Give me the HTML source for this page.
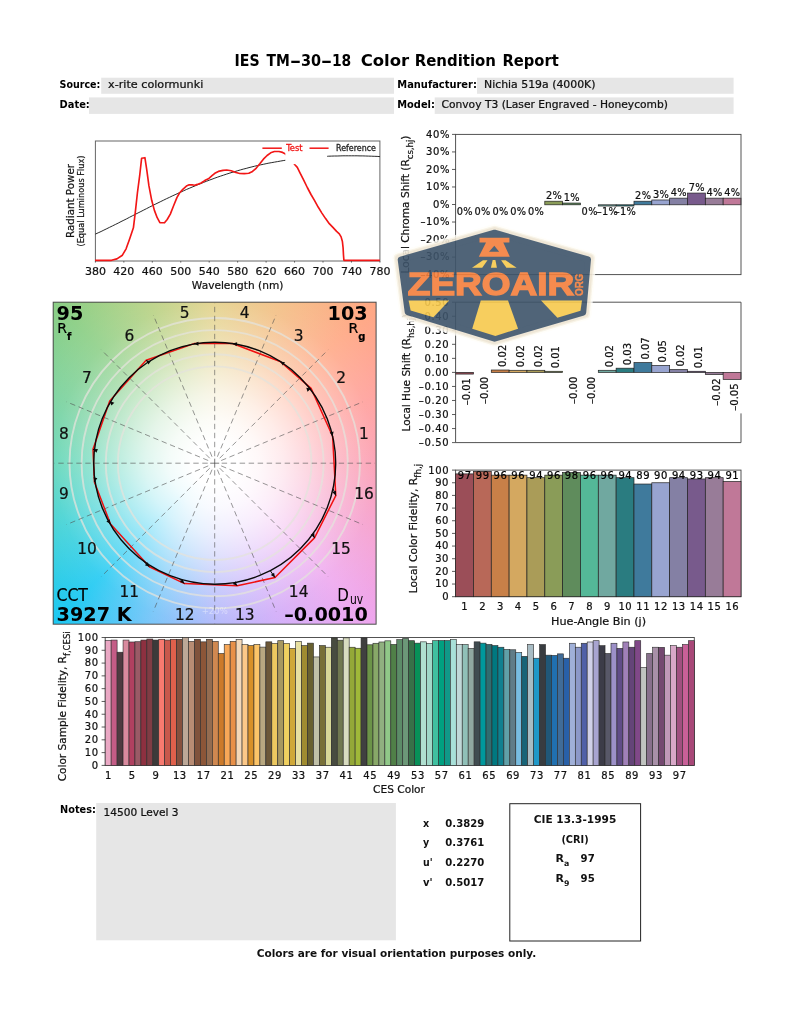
<!DOCTYPE html>
<html lang="en">
<head>
<meta charset="utf-8">
<title>IES TM-30-18 Color Rendition Report</title>
<style>
html,body{margin:0;padding:0;background:#fff;}
body{width:793px;height:1024px;position:relative;overflow:hidden;font-family:"DejaVu Sans", "Liberation Sans", sans-serif;}
#cvgbg{position:absolute;left:53.2px;top:302.2px;width:322.9px;height:322.0px;
background:radial-gradient(circle closest-side at 50% 50%, rgba(255,255,255,1) 0%, rgba(255,255,255,1) 14%, rgba(255,255,255,0.93) 28%, rgba(255,255,255,0.80) 43%, rgba(255,255,255,0.62) 58%, rgba(255,255,255,0.40) 74%, rgba(255,255,255,0.24) 89%, rgba(255,255,255,0.13) 100%, rgba(255,255,255,0.03) 125%, rgba(255,255,255,0) 140%), conic-gradient(from 0deg at 50% 50%, #e2cf84 0deg, #f2bd80 22deg, #ffa884 45deg, #ff9c98 68deg, #fb98ae 90deg, #f59ccc 112deg, #eea6ee 135deg, #cfa8f8 158deg, #a9b0fa 180deg, #6cc0f8 202deg, #1cc8f2 225deg, #38d0d4 248deg, #5ad4b4 270deg, #74d09a 292deg, #8ccf86 315deg, #b6d080 338deg, #e2cf84 360deg);}
svg{position:absolute;left:0;top:0;font-family:"DejaVu Sans", "Liberation Sans", sans-serif;}
</style>
</head>
<body>
<div id="cvgbg"></div>
<svg width="793" height="1024" viewBox="0 0 793 1024">
<text y="66.3" font-size="15.2" font-weight="bold" fill="#000"><tspan x="234.5" textLength="25.1" lengthAdjust="spacingAndGlyphs">IES</tspan> <tspan x="266.6" textLength="23.3" lengthAdjust="spacingAndGlyphs">TM</tspan><tspan x="289.7" textLength="11.5" lengthAdjust="spacingAndGlyphs">-</tspan><tspan x="300.9" textLength="20.1" lengthAdjust="spacingAndGlyphs">30</tspan><tspan x="320.7" textLength="11.5" lengthAdjust="spacingAndGlyphs">-</tspan><tspan x="331.9" textLength="19.3" lengthAdjust="spacingAndGlyphs">18</tspan> <tspan x="360.7" textLength="48.5" lengthAdjust="spacingAndGlyphs">Color</tspan> <tspan x="414.7" textLength="81.3" lengthAdjust="spacingAndGlyphs">Rendition</tspan> <tspan x="502.5" textLength="56.3" lengthAdjust="spacingAndGlyphs">Report</tspan></text>
<rect x="101.20" y="77.70" width="292.80" height="16.10" fill="#e6e6e6"/>
<rect x="89.00" y="97.40" width="305.00" height="16.50" fill="#e6e6e6"/>
<rect x="477.00" y="77.70" width="256.60" height="16.10" fill="#e6e6e6"/>
<rect x="434.70" y="97.40" width="298.90" height="16.50" fill="#e6e6e6"/>
<text x="59.60" y="87.60" font-size="10.2" font-weight="bold" textLength="40.80" lengthAdjust="spacingAndGlyphs" fill="#000">Source:</text>
<text x="108.00" y="87.60" font-size="10.0" textLength="95.30" lengthAdjust="spacingAndGlyphs" fill="#111" stroke="#111" stroke-width="0.22">x-rite colormunki</text>
<text x="59.60" y="107.60" font-size="10.2" font-weight="bold" textLength="30.20" lengthAdjust="spacingAndGlyphs" fill="#000">Date:</text>
<text x="397.30" y="87.60" font-size="10.2" font-weight="bold" textLength="79.60" lengthAdjust="spacingAndGlyphs" fill="#000">Manufacturer:</text>
<text x="484.00" y="87.60" font-size="10.0" textLength="111.50" lengthAdjust="spacingAndGlyphs" fill="#111" stroke="#111" stroke-width="0.22">Nichia 519a (4000K)</text>
<text x="397.30" y="107.60" font-size="10.2" font-weight="bold" textLength="37.60" lengthAdjust="spacingAndGlyphs" fill="#000">Model:</text>
<text x="441.50" y="107.60" font-size="10.0" textLength="226.50" lengthAdjust="spacingAndGlyphs" fill="#111" stroke="#111" stroke-width="0.22">Convoy T3 (Laser Engraved - Honeycomb)</text>
<g id="spd">
<rect x="95.40" y="141.00" width="284.50" height="120.00" fill="none" stroke="#666" stroke-width="1"/>
<polyline fill="none" stroke="#111" stroke-width="0.9" points="95.4,234.1 98.2,232.8 101.1,231.5 103.9,230.1 106.8,228.7 109.6,227.3 112.5,225.9 115.3,224.5 118.2,223.1 121.0,221.6 123.9,220.2 126.7,218.8 129.5,217.3 132.4,215.8 135.2,214.4 138.1,212.9 140.9,211.5 143.8,210.0 146.6,208.6 149.5,207.1 152.3,205.7 155.1,204.3 158.0,202.9 160.8,201.5 163.7,200.1 166.5,198.7 169.4,197.4 172.2,196.0 175.1,194.7 177.9,193.4 180.8,192.1 183.6,190.8 186.4,189.5 189.3,188.3 192.1,187.1 195.0,185.9 197.8,184.7 200.7,183.6 203.5,182.4 206.4,181.3 209.2,180.2 212.0,179.2 214.9,178.1 217.7,177.1 220.6,176.1 223.4,175.2 226.3,174.2 229.1,173.3 232.0,172.4 234.8,171.6 237.7,170.7 240.5,169.9 243.3,169.1 246.2,168.4 249.0,167.6 251.9,166.9 254.7,166.2 257.6,165.5 260.4,164.9 263.3,164.3 266.1,163.7 268.9,163.1 271.8,162.6 274.6,162.1 277.5,161.6 280.3,161.1 283.2,160.6 286.0,160.2 288.9,159.8 291.7,159.4 294.6,159.0 297.4,158.7 300.2,158.4 303.1,158.1 305.9,157.8 308.8,157.5 311.6,157.3 314.5,157.1 317.3,156.9 320.2,156.7 323.0,156.5 325.8,156.4 328.7,156.2 331.5,156.1 334.4,156.0 337.2,156.0 340.1,155.9 342.9,155.8 345.8,155.8 348.6,155.8 351.5,155.8 354.3,155.8 357.1,155.8 360.0,155.9 362.8,155.9 365.7,156.0 368.5,156.1 371.4,156.2 374.2,156.3 377.1,156.4 379.9,156.6"/>
<polyline fill="none" stroke="#f21616" stroke-width="1.65" stroke-linejoin="round" points="95.0,260.3 111.5,260.3 116.9,258.9 122.4,255.2 126.1,248.8 129.7,238.7 133.4,227.8 135.2,213.1 137.4,193.0 139.8,174.7 141.6,158.3 144.9,157.7 146.7,169.3 148.9,185.7 151.7,200.3 154.4,210.4 157.2,217.7 159.9,222.6 164.5,222.8 167.2,219.5 170.3,214.1 173.6,205.8 176.9,197.6 179.5,193.0 182.8,189.4 186.4,186.1 189.2,184.8 191.9,184.8 194.7,185.3 197.4,184.4 201.1,183.0 204.7,180.6 208.4,178.8 212.0,175.7 214.8,173.3 218.4,171.4 223.0,170.4 226.7,170.0 231.2,170.7 235.8,172.5 236.0,172.5 239.7,173.5 244.2,173.6 248.8,173.3 252.5,171.4 256.1,168.3 259.8,163.8 263.4,159.2 267.1,155.5 270.7,152.8 274.4,151.5 279.0,151.5 282.6,152.4 285.0,153.7 288.1,156.5 290.9,159.7 293.0,162.3 294.9,164.7 297.3,167.4 300.0,172.9 303.7,180.2 307.3,187.5 311.0,194.5 314.6,200.7 318.3,207.3 321.9,213.1 325.6,218.6 329.3,223.7 332.9,227.4 336.6,231.4 339.3,233.8 341.1,236.9 342.4,241.5 343.1,247.9 343.5,255.2 343.9,260.3 379.9,260.3"/>
<rect x="285.30" y="142.00" width="41.90" height="22.10" fill="#fff"/>
<line x1="262.40" y1="148.20" x2="281.80" y2="148.20" stroke="#f21616" stroke-width="1.5"/>
<line x1="309.50" y1="148.20" x2="328.60" y2="148.20" stroke="#f21616" stroke-width="1.5"/>
<text x="286.20" y="151.30" font-size="8.4" textLength="16.40" lengthAdjust="spacingAndGlyphs" fill="#f21616" stroke="#f21616" stroke-width="0.3">Test</text>
<text x="336.00" y="151.30" font-size="8.4" textLength="39.90" lengthAdjust="spacingAndGlyphs" fill="#222" stroke="#222" stroke-width="0.3">Reference</text>
<line x1="95.40" y1="261.00" x2="95.40" y2="262.60" stroke="#444" stroke-width="0.8"/>
<text x="95.40" y="275.00" font-size="11.0" text-anchor="middle" fill="#111" stroke="#111" stroke-width="0.22">380</text>
<line x1="123.85" y1="261.00" x2="123.85" y2="262.60" stroke="#444" stroke-width="0.8"/>
<text x="123.85" y="275.00" font-size="11.0" text-anchor="middle" fill="#111" stroke="#111" stroke-width="0.22">420</text>
<line x1="152.30" y1="261.00" x2="152.30" y2="262.60" stroke="#444" stroke-width="0.8"/>
<text x="152.30" y="275.00" font-size="11.0" text-anchor="middle" fill="#111" stroke="#111" stroke-width="0.22">460</text>
<line x1="180.75" y1="261.00" x2="180.75" y2="262.60" stroke="#444" stroke-width="0.8"/>
<text x="180.75" y="275.00" font-size="11.0" text-anchor="middle" fill="#111" stroke="#111" stroke-width="0.22">500</text>
<line x1="209.20" y1="261.00" x2="209.20" y2="262.60" stroke="#444" stroke-width="0.8"/>
<text x="209.20" y="275.00" font-size="11.0" text-anchor="middle" fill="#111" stroke="#111" stroke-width="0.22">540</text>
<line x1="237.65" y1="261.00" x2="237.65" y2="262.60" stroke="#444" stroke-width="0.8"/>
<text x="237.65" y="275.00" font-size="11.0" text-anchor="middle" fill="#111" stroke="#111" stroke-width="0.22">580</text>
<line x1="266.10" y1="261.00" x2="266.10" y2="262.60" stroke="#444" stroke-width="0.8"/>
<text x="266.10" y="275.00" font-size="11.0" text-anchor="middle" fill="#111" stroke="#111" stroke-width="0.22">620</text>
<line x1="294.55" y1="261.00" x2="294.55" y2="262.60" stroke="#444" stroke-width="0.8"/>
<text x="294.55" y="275.00" font-size="11.0" text-anchor="middle" fill="#111" stroke="#111" stroke-width="0.22">660</text>
<line x1="323.00" y1="261.00" x2="323.00" y2="262.60" stroke="#444" stroke-width="0.8"/>
<text x="323.00" y="275.00" font-size="11.0" text-anchor="middle" fill="#111" stroke="#111" stroke-width="0.22">700</text>
<line x1="351.45" y1="261.00" x2="351.45" y2="262.60" stroke="#444" stroke-width="0.8"/>
<text x="351.45" y="275.00" font-size="11.0" text-anchor="middle" fill="#111" stroke="#111" stroke-width="0.22">740</text>
<line x1="379.90" y1="261.00" x2="379.90" y2="262.60" stroke="#444" stroke-width="0.8"/>
<text x="379.90" y="275.00" font-size="11.0" text-anchor="middle" fill="#111" stroke="#111" stroke-width="0.22">780</text>
<text x="237.60" y="288.60" font-size="11.0" text-anchor="middle" textLength="91.50" lengthAdjust="spacingAndGlyphs" fill="#111" stroke="#111" stroke-width="0.22">Wavelength (nm)</text>
<text x="73.50" y="201.00" font-size="10.3" text-anchor="middle" transform="rotate(-90 73.50 201.00)" fill="#111" stroke="#111" stroke-width="0.22">Radiant Power</text>
<text x="84.00" y="201.00" font-size="8.2" text-anchor="middle" transform="rotate(-90 84.00 201.00)" textLength="91.00" lengthAdjust="spacingAndGlyphs" fill="#111" stroke="#111" stroke-width="0.22">(Equal Luminous Flux)</text>
</g>
<g id="chroma">
<text x="464.82" y="215.00" font-size="9.8" text-anchor="middle" letter-spacing="0.3" fill="#111" stroke="#111" stroke-width="0.22">0%</text>
<text x="482.66" y="215.00" font-size="9.8" text-anchor="middle" letter-spacing="0.3" fill="#111" stroke="#111" stroke-width="0.22">0%</text>
<text x="500.49" y="215.00" font-size="9.8" text-anchor="middle" letter-spacing="0.3" fill="#111" stroke="#111" stroke-width="0.22">0%</text>
<text x="518.33" y="215.00" font-size="9.8" text-anchor="middle" letter-spacing="0.3" fill="#111" stroke="#111" stroke-width="0.22">0%</text>
<text x="536.17" y="215.00" font-size="9.8" text-anchor="middle" letter-spacing="0.3" fill="#111" stroke="#111" stroke-width="0.22">0%</text>
<rect x="544.79" y="201.21" width="17.84" height="3.59" fill="#8a9c58" stroke="#222" stroke-width="0.7"/>
<text x="554.01" y="199.21" font-size="9.8" text-anchor="middle" letter-spacing="0.3" fill="#111" stroke="#111" stroke-width="0.22">2%</text>
<rect x="562.62" y="203.05" width="17.84" height="1.75" fill="#5f8c5c" stroke="#222" stroke-width="0.7"/>
<text x="571.84" y="201.05" font-size="9.8" text-anchor="middle" letter-spacing="0.3" fill="#111" stroke="#111" stroke-width="0.22">1%</text>
<text x="589.68" y="215.00" font-size="9.8" text-anchor="middle" letter-spacing="0.3" fill="#111" stroke="#111" stroke-width="0.22">0%</text>
<rect x="598.30" y="204.80" width="17.84" height="1.23" fill="#70a8a0" stroke="#222" stroke-width="0.7"/>
<text x="607.52" y="215.00" font-size="9.8" text-anchor="middle" letter-spacing="0.3" fill="#111" stroke="#111" stroke-width="0.22">–1%</text>
<rect x="616.14" y="204.80" width="17.84" height="1.23" fill="#2a7c80" stroke="#222" stroke-width="0.7"/>
<text x="625.36" y="215.00" font-size="9.8" text-anchor="middle" letter-spacing="0.3" fill="#111" stroke="#111" stroke-width="0.22">–1%</text>
<rect x="633.98" y="201.21" width="17.84" height="3.59" fill="#3f7a9c" stroke="#222" stroke-width="0.7"/>
<text x="643.19" y="199.21" font-size="9.8" text-anchor="middle" letter-spacing="0.3" fill="#111" stroke="#111" stroke-width="0.22">2%</text>
<rect x="651.81" y="199.98" width="17.84" height="4.82" fill="#98a4d0" stroke="#222" stroke-width="0.7"/>
<text x="661.03" y="197.98" font-size="9.8" text-anchor="middle" letter-spacing="0.3" fill="#111" stroke="#111" stroke-width="0.22">3%</text>
<rect x="669.65" y="198.14" width="17.84" height="6.66" fill="#8480a4" stroke="#222" stroke-width="0.7"/>
<text x="678.87" y="196.14" font-size="9.8" text-anchor="middle" letter-spacing="0.3" fill="#111" stroke="#111" stroke-width="0.22">4%</text>
<rect x="687.49" y="193.06" width="17.84" height="11.74" fill="#785a8c" stroke="#222" stroke-width="0.7"/>
<text x="696.71" y="191.06" font-size="9.8" text-anchor="middle" letter-spacing="0.3" fill="#111" stroke="#111" stroke-width="0.22">7%</text>
<rect x="705.33" y="198.14" width="17.84" height="6.66" fill="#987c98" stroke="#222" stroke-width="0.7"/>
<text x="714.54" y="196.14" font-size="9.8" text-anchor="middle" letter-spacing="0.3" fill="#111" stroke="#111" stroke-width="0.22">4%</text>
<rect x="723.16" y="198.14" width="17.84" height="6.66" fill="#c07898" stroke="#222" stroke-width="0.7"/>
<text x="732.38" y="196.14" font-size="9.8" text-anchor="middle" letter-spacing="0.3" fill="#111" stroke="#111" stroke-width="0.22">4%</text>
<rect x="455.60" y="134.40" width="285.40" height="140.20" fill="none" stroke="#4a4a4a" stroke-width="0.95"/>
<line x1="452.00" y1="134.40" x2="455.60" y2="134.40" stroke="#333" stroke-width="0.8"/>
<text x="450.10" y="137.60" font-size="10.0" text-anchor="end" letter-spacing="0.6" fill="#111" stroke="#111" stroke-width="0.22">40%</text>
<line x1="452.00" y1="151.93" x2="455.60" y2="151.93" stroke="#333" stroke-width="0.8"/>
<text x="450.10" y="155.12" font-size="10.0" text-anchor="end" letter-spacing="0.6" fill="#111" stroke="#111" stroke-width="0.22">30%</text>
<line x1="452.00" y1="169.45" x2="455.60" y2="169.45" stroke="#333" stroke-width="0.8"/>
<text x="450.10" y="172.65" font-size="10.0" text-anchor="end" letter-spacing="0.6" fill="#111" stroke="#111" stroke-width="0.22">20%</text>
<line x1="452.00" y1="186.98" x2="455.60" y2="186.98" stroke="#333" stroke-width="0.8"/>
<text x="450.10" y="190.18" font-size="10.0" text-anchor="end" letter-spacing="0.6" fill="#111" stroke="#111" stroke-width="0.22">10%</text>
<line x1="452.00" y1="204.50" x2="455.60" y2="204.50" stroke="#333" stroke-width="0.8"/>
<text x="450.10" y="207.70" font-size="10.0" text-anchor="end" letter-spacing="0.6" fill="#111" stroke="#111" stroke-width="0.22">0%</text>
<line x1="452.00" y1="222.03" x2="455.60" y2="222.03" stroke="#333" stroke-width="0.8"/>
<text x="450.10" y="225.23" font-size="10.0" text-anchor="end" letter-spacing="0.6" fill="#111" stroke="#111" stroke-width="0.22">–10%</text>
<line x1="452.00" y1="239.55" x2="455.60" y2="239.55" stroke="#333" stroke-width="0.8"/>
<text x="450.10" y="242.75" font-size="10.0" text-anchor="end" letter-spacing="0.6" fill="#111" stroke="#111" stroke-width="0.22">–20%</text>
<line x1="452.00" y1="257.08" x2="455.60" y2="257.08" stroke="#333" stroke-width="0.8"/>
<text x="450.10" y="260.28" font-size="10.0" text-anchor="end" letter-spacing="0.6" fill="#111" stroke="#111" stroke-width="0.22">–30%</text>
<line x1="452.00" y1="274.60" x2="455.60" y2="274.60" stroke="#333" stroke-width="0.8"/>
<text x="450.10" y="277.80" font-size="10.0" text-anchor="end" letter-spacing="0.6" fill="#111" stroke="#111" stroke-width="0.22">–40%</text>
<text x="409.40" y="204.50" font-size="10.9" text-anchor="middle" transform="rotate(-90 409.40 204.50)" textLength="138.00" lengthAdjust="spacingAndGlyphs" fill="#111" stroke="#111" stroke-width="0.22">Local Chroma Shift (R<tspan font-size="8.8" dy="4.0">cs,hj</tspan><tspan dy="-4.0">)</tspan></text>
</g>
<g id="hue">
<rect x="455.60" y="372.40" width="17.84" height="1.68" fill="#9b4e58" stroke="#222" stroke-width="0.7"/>
<text x="470.22" y="378.08" font-size="10.0" text-anchor="end" transform="rotate(-90 470.22 378.08)" fill="#111" stroke="#111" stroke-width="0.22">–0.01</text>
<text x="488.06" y="376.82" font-size="10.0" text-anchor="end" transform="rotate(-90 488.06 376.82)" fill="#111" stroke="#111" stroke-width="0.22">–0.00</text>
<rect x="491.28" y="370.01" width="17.84" height="2.39" fill="#c88048" stroke="#222" stroke-width="0.7"/>
<text x="505.89" y="367.01" font-size="10.0" transform="rotate(-90 505.89 367.01)" fill="#111" stroke="#111" stroke-width="0.22">0.02</text>
<rect x="509.11" y="370.29" width="17.84" height="2.11" fill="#d4a860" stroke="#222" stroke-width="0.7"/>
<text x="523.73" y="367.29" font-size="10.0" transform="rotate(-90 523.73 367.29)" fill="#111" stroke="#111" stroke-width="0.22">0.02</text>
<rect x="526.95" y="370.29" width="17.84" height="2.11" fill="#aa9c58" stroke="#222" stroke-width="0.7"/>
<text x="541.57" y="367.29" font-size="10.0" transform="rotate(-90 541.57 367.29)" fill="#111" stroke="#111" stroke-width="0.22">0.02</text>
<rect x="544.79" y="371.28" width="17.84" height="1.12" fill="#8a9c58" stroke="#222" stroke-width="0.7"/>
<text x="559.41" y="368.28" font-size="10.0" transform="rotate(-90 559.41 368.28)" fill="#111" stroke="#111" stroke-width="0.22">0.01</text>
<text x="577.24" y="376.68" font-size="10.0" text-anchor="end" transform="rotate(-90 577.24 376.68)" fill="#111" stroke="#111" stroke-width="0.22">–0.00</text>
<text x="595.08" y="376.82" font-size="10.0" text-anchor="end" transform="rotate(-90 595.08 376.82)" fill="#111" stroke="#111" stroke-width="0.22">–0.00</text>
<rect x="598.30" y="370.29" width="17.84" height="2.11" fill="#70a8a0" stroke="#222" stroke-width="0.7"/>
<text x="612.92" y="367.29" font-size="10.0" transform="rotate(-90 612.92 367.29)" fill="#111" stroke="#111" stroke-width="0.22">0.02</text>
<rect x="616.14" y="368.19" width="17.84" height="4.21" fill="#2a7c80" stroke="#222" stroke-width="0.7"/>
<text x="630.76" y="365.19" font-size="10.0" transform="rotate(-90 630.76 365.19)" fill="#111" stroke="#111" stroke-width="0.22">0.03</text>
<rect x="633.98" y="362.57" width="17.84" height="9.83" fill="#3f7a9c" stroke="#222" stroke-width="0.7"/>
<text x="648.59" y="359.57" font-size="10.0" transform="rotate(-90 648.59 359.57)" fill="#111" stroke="#111" stroke-width="0.22">0.07</text>
<rect x="651.81" y="365.38" width="17.84" height="7.02" fill="#98a4d0" stroke="#222" stroke-width="0.7"/>
<text x="666.43" y="362.38" font-size="10.0" transform="rotate(-90 666.43 362.38)" fill="#111" stroke="#111" stroke-width="0.22">0.05</text>
<rect x="669.65" y="369.59" width="17.84" height="2.81" fill="#8480a4" stroke="#222" stroke-width="0.7"/>
<text x="684.27" y="366.59" font-size="10.0" transform="rotate(-90 684.27 366.59)" fill="#111" stroke="#111" stroke-width="0.22">0.02</text>
<rect x="687.49" y="371.28" width="17.84" height="1.12" fill="#785a8c" stroke="#222" stroke-width="0.7"/>
<text x="702.11" y="368.28" font-size="10.0" transform="rotate(-90 702.11 368.28)" fill="#111" stroke="#111" stroke-width="0.22">0.01</text>
<rect x="705.33" y="372.40" width="17.84" height="2.11" fill="#987c98" stroke="#222" stroke-width="0.7"/>
<text x="719.94" y="378.51" font-size="10.0" text-anchor="end" transform="rotate(-90 719.94 378.51)" fill="#111" stroke="#111" stroke-width="0.22">–0.02</text>
<rect x="735.00" y="380.42" width="9.00" height="32.00" fill="#fff"/>
<rect x="723.16" y="372.40" width="17.84" height="7.02" fill="#c07898" stroke="#222" stroke-width="0.7"/>
<text x="737.78" y="383.42" font-size="10.0" text-anchor="end" transform="rotate(-90 737.78 383.42)" fill="#111" stroke="#111" stroke-width="0.22">–0.05</text>
<path d="M741.00,379.40V302.20H455.60V442.60H741.00V413.40" fill="none" stroke="#4a4a4a" stroke-width="0.95"/>
<line x1="452.00" y1="302.20" x2="455.60" y2="302.20" stroke="#333" stroke-width="0.8"/>
<text x="449.10" y="305.60" font-size="10.0" text-anchor="end" letter-spacing="0.6" fill="#111" stroke="#111" stroke-width="0.22">0.50</text>
<line x1="452.00" y1="316.24" x2="455.60" y2="316.24" stroke="#333" stroke-width="0.8"/>
<text x="449.10" y="319.64" font-size="10.0" text-anchor="end" letter-spacing="0.6" fill="#111" stroke="#111" stroke-width="0.22">0.40</text>
<line x1="452.00" y1="330.28" x2="455.60" y2="330.28" stroke="#333" stroke-width="0.8"/>
<text x="449.10" y="333.68" font-size="10.0" text-anchor="end" letter-spacing="0.6" fill="#111" stroke="#111" stroke-width="0.22">0.30</text>
<line x1="452.00" y1="344.32" x2="455.60" y2="344.32" stroke="#333" stroke-width="0.8"/>
<text x="449.10" y="347.72" font-size="10.0" text-anchor="end" letter-spacing="0.6" fill="#111" stroke="#111" stroke-width="0.22">0.20</text>
<line x1="452.00" y1="358.36" x2="455.60" y2="358.36" stroke="#333" stroke-width="0.8"/>
<text x="449.10" y="361.76" font-size="10.0" text-anchor="end" letter-spacing="0.6" fill="#111" stroke="#111" stroke-width="0.22">0.10</text>
<line x1="452.00" y1="372.40" x2="455.60" y2="372.40" stroke="#333" stroke-width="0.8"/>
<text x="449.10" y="375.80" font-size="10.0" text-anchor="end" letter-spacing="0.6" fill="#111" stroke="#111" stroke-width="0.22">0.00</text>
<line x1="452.00" y1="386.44" x2="455.60" y2="386.44" stroke="#333" stroke-width="0.8"/>
<text x="449.10" y="389.84" font-size="10.0" text-anchor="end" letter-spacing="0.6" fill="#111" stroke="#111" stroke-width="0.22">–0.10</text>
<line x1="452.00" y1="400.48" x2="455.60" y2="400.48" stroke="#333" stroke-width="0.8"/>
<text x="449.10" y="403.88" font-size="10.0" text-anchor="end" letter-spacing="0.6" fill="#111" stroke="#111" stroke-width="0.22">–0.20</text>
<line x1="452.00" y1="414.52" x2="455.60" y2="414.52" stroke="#333" stroke-width="0.8"/>
<text x="449.10" y="417.92" font-size="10.0" text-anchor="end" letter-spacing="0.6" fill="#111" stroke="#111" stroke-width="0.22">–0.30</text>
<line x1="452.00" y1="428.56" x2="455.60" y2="428.56" stroke="#333" stroke-width="0.8"/>
<text x="449.10" y="431.96" font-size="10.0" text-anchor="end" letter-spacing="0.6" fill="#111" stroke="#111" stroke-width="0.22">–0.40</text>
<line x1="452.00" y1="442.60" x2="455.60" y2="442.60" stroke="#333" stroke-width="0.8"/>
<text x="449.10" y="446.00" font-size="10.0" text-anchor="end" letter-spacing="0.6" fill="#111" stroke="#111" stroke-width="0.22">–0.50</text>
<text x="409.60" y="372.60" font-size="10.9" text-anchor="middle" transform="rotate(-90 409.60 372.60)" textLength="117.60" lengthAdjust="spacingAndGlyphs" fill="#111" stroke="#111" stroke-width="0.22">Local Hue Shift (R<tspan font-size="8.8" dy="4.0">hs,hj</tspan><tspan dy="-4.0">)</tspan></text>
</g>
<g id="rfh">
<rect x="455.60" y="470.10" width="285.40" height="126.60" fill="#fff" stroke="#4a4a4a" stroke-width="0.95"/>
<rect x="455.60" y="473.90" width="17.84" height="122.80" fill="#9b4e58" stroke="#222" stroke-width="0.7"/>
<rect x="473.44" y="471.37" width="17.84" height="125.33" fill="#b86858" stroke="#222" stroke-width="0.7"/>
<rect x="491.28" y="475.16" width="17.84" height="121.54" fill="#c88048" stroke="#222" stroke-width="0.7"/>
<rect x="509.11" y="475.16" width="17.84" height="121.54" fill="#d4a860" stroke="#222" stroke-width="0.7"/>
<rect x="526.95" y="477.70" width="17.84" height="119.00" fill="#aa9c58" stroke="#222" stroke-width="0.7"/>
<rect x="544.79" y="475.16" width="17.84" height="121.54" fill="#8a9c58" stroke="#222" stroke-width="0.7"/>
<rect x="562.62" y="472.63" width="17.84" height="124.07" fill="#5f8c5c" stroke="#222" stroke-width="0.7"/>
<rect x="580.46" y="475.16" width="17.84" height="121.54" fill="#54b898" stroke="#222" stroke-width="0.7"/>
<rect x="598.30" y="475.16" width="17.84" height="121.54" fill="#70a8a0" stroke="#222" stroke-width="0.7"/>
<rect x="616.14" y="477.70" width="17.84" height="119.00" fill="#2a7c80" stroke="#222" stroke-width="0.7"/>
<rect x="633.98" y="484.03" width="17.84" height="112.67" fill="#3f7a9c" stroke="#222" stroke-width="0.7"/>
<rect x="651.81" y="482.76" width="17.84" height="113.94" fill="#98a4d0" stroke="#222" stroke-width="0.7"/>
<rect x="669.65" y="477.70" width="17.84" height="119.00" fill="#8480a4" stroke="#222" stroke-width="0.7"/>
<rect x="687.49" y="478.96" width="17.84" height="117.74" fill="#785a8c" stroke="#222" stroke-width="0.7"/>
<rect x="705.33" y="477.70" width="17.84" height="119.00" fill="#987c98" stroke="#222" stroke-width="0.7"/>
<rect x="723.16" y="481.49" width="17.84" height="115.21" fill="#c07898" stroke="#222" stroke-width="0.7"/>
<text x="464.82" y="478.80" font-size="10.0" text-anchor="middle" letter-spacing="0.6" fill="#000" stroke="#000" stroke-width="0.22">97</text>
<text x="464.52" y="610.00" font-size="10.0" text-anchor="middle" fill="#111" stroke="#111" stroke-width="0.22">1</text>
<text x="482.66" y="478.80" font-size="10.0" text-anchor="middle" letter-spacing="0.6" fill="#000" stroke="#000" stroke-width="0.22">99</text>
<text x="482.36" y="610.00" font-size="10.0" text-anchor="middle" fill="#111" stroke="#111" stroke-width="0.22">2</text>
<text x="500.49" y="478.80" font-size="10.0" text-anchor="middle" letter-spacing="0.6" fill="#000" stroke="#000" stroke-width="0.22">96</text>
<text x="500.19" y="610.00" font-size="10.0" text-anchor="middle" fill="#111" stroke="#111" stroke-width="0.22">3</text>
<text x="518.33" y="478.80" font-size="10.0" text-anchor="middle" letter-spacing="0.6" fill="#000" stroke="#000" stroke-width="0.22">96</text>
<text x="518.03" y="610.00" font-size="10.0" text-anchor="middle" fill="#111" stroke="#111" stroke-width="0.22">4</text>
<text x="536.17" y="478.80" font-size="10.0" text-anchor="middle" letter-spacing="0.6" fill="#000" stroke="#000" stroke-width="0.22">94</text>
<text x="535.87" y="610.00" font-size="10.0" text-anchor="middle" fill="#111" stroke="#111" stroke-width="0.22">5</text>
<text x="554.01" y="478.80" font-size="10.0" text-anchor="middle" letter-spacing="0.6" fill="#000" stroke="#000" stroke-width="0.22">96</text>
<text x="553.71" y="610.00" font-size="10.0" text-anchor="middle" fill="#111" stroke="#111" stroke-width="0.22">6</text>
<text x="571.84" y="478.80" font-size="10.0" text-anchor="middle" letter-spacing="0.6" fill="#000" stroke="#000" stroke-width="0.22">98</text>
<text x="571.54" y="610.00" font-size="10.0" text-anchor="middle" fill="#111" stroke="#111" stroke-width="0.22">7</text>
<text x="589.68" y="478.80" font-size="10.0" text-anchor="middle" letter-spacing="0.6" fill="#000" stroke="#000" stroke-width="0.22">96</text>
<text x="589.38" y="610.00" font-size="10.0" text-anchor="middle" fill="#111" stroke="#111" stroke-width="0.22">8</text>
<text x="607.52" y="478.80" font-size="10.0" text-anchor="middle" letter-spacing="0.6" fill="#000" stroke="#000" stroke-width="0.22">96</text>
<text x="607.22" y="610.00" font-size="10.0" text-anchor="middle" fill="#111" stroke="#111" stroke-width="0.22">9</text>
<text x="625.36" y="478.80" font-size="10.0" text-anchor="middle" letter-spacing="0.6" fill="#000" stroke="#000" stroke-width="0.22">94</text>
<text x="625.36" y="610.00" font-size="10.0" text-anchor="middle" letter-spacing="0.6" fill="#111" stroke="#111" stroke-width="0.22">10</text>
<text x="643.19" y="478.80" font-size="10.0" text-anchor="middle" letter-spacing="0.6" fill="#000" stroke="#000" stroke-width="0.22">89</text>
<text x="643.19" y="610.00" font-size="10.0" text-anchor="middle" letter-spacing="0.6" fill="#111" stroke="#111" stroke-width="0.22">11</text>
<text x="661.03" y="478.80" font-size="10.0" text-anchor="middle" letter-spacing="0.6" fill="#000" stroke="#000" stroke-width="0.22">90</text>
<text x="661.03" y="610.00" font-size="10.0" text-anchor="middle" letter-spacing="0.6" fill="#111" stroke="#111" stroke-width="0.22">12</text>
<text x="678.87" y="478.80" font-size="10.0" text-anchor="middle" letter-spacing="0.6" fill="#000" stroke="#000" stroke-width="0.22">94</text>
<text x="678.87" y="610.00" font-size="10.0" text-anchor="middle" letter-spacing="0.6" fill="#111" stroke="#111" stroke-width="0.22">13</text>
<text x="696.71" y="478.80" font-size="10.0" text-anchor="middle" letter-spacing="0.6" fill="#000" stroke="#000" stroke-width="0.22">93</text>
<text x="696.71" y="610.00" font-size="10.0" text-anchor="middle" letter-spacing="0.6" fill="#111" stroke="#111" stroke-width="0.22">14</text>
<text x="714.54" y="478.80" font-size="10.0" text-anchor="middle" letter-spacing="0.6" fill="#000" stroke="#000" stroke-width="0.22">94</text>
<text x="714.54" y="610.00" font-size="10.0" text-anchor="middle" letter-spacing="0.6" fill="#111" stroke="#111" stroke-width="0.22">15</text>
<text x="732.38" y="478.80" font-size="10.0" text-anchor="middle" letter-spacing="0.6" fill="#000" stroke="#000" stroke-width="0.22">91</text>
<text x="732.38" y="610.00" font-size="10.0" text-anchor="middle" letter-spacing="0.6" fill="#111" stroke="#111" stroke-width="0.22">16</text>
<line x1="452.00" y1="470.10" x2="455.60" y2="470.10" stroke="#333" stroke-width="0.8"/>
<text x="449.10" y="473.50" font-size="10.0" text-anchor="end" letter-spacing="0.6" fill="#111" stroke="#111" stroke-width="0.22">100</text>
<line x1="452.00" y1="482.76" x2="455.60" y2="482.76" stroke="#333" stroke-width="0.8"/>
<text x="449.10" y="486.16" font-size="10.0" text-anchor="end" letter-spacing="0.6" fill="#111" stroke="#111" stroke-width="0.22">90</text>
<line x1="452.00" y1="495.42" x2="455.60" y2="495.42" stroke="#333" stroke-width="0.8"/>
<text x="449.10" y="498.82" font-size="10.0" text-anchor="end" letter-spacing="0.6" fill="#111" stroke="#111" stroke-width="0.22">80</text>
<line x1="452.00" y1="508.08" x2="455.60" y2="508.08" stroke="#333" stroke-width="0.8"/>
<text x="449.10" y="511.48" font-size="10.0" text-anchor="end" letter-spacing="0.6" fill="#111" stroke="#111" stroke-width="0.22">70</text>
<line x1="452.00" y1="520.74" x2="455.60" y2="520.74" stroke="#333" stroke-width="0.8"/>
<text x="449.10" y="524.14" font-size="10.0" text-anchor="end" letter-spacing="0.6" fill="#111" stroke="#111" stroke-width="0.22">60</text>
<line x1="452.00" y1="533.40" x2="455.60" y2="533.40" stroke="#333" stroke-width="0.8"/>
<text x="449.10" y="536.80" font-size="10.0" text-anchor="end" letter-spacing="0.6" fill="#111" stroke="#111" stroke-width="0.22">50</text>
<line x1="452.00" y1="546.06" x2="455.60" y2="546.06" stroke="#333" stroke-width="0.8"/>
<text x="449.10" y="549.46" font-size="10.0" text-anchor="end" letter-spacing="0.6" fill="#111" stroke="#111" stroke-width="0.22">40</text>
<line x1="452.00" y1="558.72" x2="455.60" y2="558.72" stroke="#333" stroke-width="0.8"/>
<text x="449.10" y="562.12" font-size="10.0" text-anchor="end" letter-spacing="0.6" fill="#111" stroke="#111" stroke-width="0.22">30</text>
<line x1="452.00" y1="571.38" x2="455.60" y2="571.38" stroke="#333" stroke-width="0.8"/>
<text x="449.10" y="574.78" font-size="10.0" text-anchor="end" letter-spacing="0.6" fill="#111" stroke="#111" stroke-width="0.22">20</text>
<line x1="452.00" y1="584.04" x2="455.60" y2="584.04" stroke="#333" stroke-width="0.8"/>
<text x="449.10" y="587.44" font-size="10.0" text-anchor="end" letter-spacing="0.6" fill="#111" stroke="#111" stroke-width="0.22">10</text>
<line x1="452.00" y1="596.70" x2="455.60" y2="596.70" stroke="#333" stroke-width="0.8"/>
<text x="449.10" y="600.10" font-size="10.0" text-anchor="end" letter-spacing="0.6" fill="#111" stroke="#111" stroke-width="0.22">0</text>
<text x="598.60" y="624.60" font-size="11.0" text-anchor="middle" textLength="95.00" lengthAdjust="spacingAndGlyphs" fill="#111" stroke="#111" stroke-width="0.22">Hue-Angle Bin (j)</text>
<text x="416.60" y="528.60" font-size="10.9" text-anchor="middle" transform="rotate(-90 416.60 528.60)" textLength="129.40" lengthAdjust="spacingAndGlyphs" fill="#111" stroke="#111" stroke-width="0.22">Local Color Fidelity, R<tspan font-size="8.8" dy="4.0">fh,j</tspan></text>
</g>
<g id="cvg">
<circle cx="214.7" cy="463.2" r="96.80" fill="none" stroke="#e4e2dc" stroke-width="1.9" opacity="0.74"/>
<circle cx="214.7" cy="463.2" r="108.90" fill="none" stroke="#e4e2dc" stroke-width="1.9" opacity="0.74"/>
<circle cx="214.7" cy="463.2" r="133.10" fill="none" stroke="#e4e2dc" stroke-width="1.9" opacity="0.74"/>
<circle cx="214.7" cy="463.2" r="145.20" fill="none" stroke="#e4e2dc" stroke-width="1.9" opacity="0.74"/>
<line x1="221.70" y1="463.20" x2="375.02" y2="463.20" stroke="#505050" stroke-width="0.85" stroke-dasharray="5.4 3.6" opacity="0.7"/>
<line x1="221.17" y1="460.52" x2="362.82" y2="401.85" stroke="#505050" stroke-width="0.85" stroke-dasharray="5.4 3.6" opacity="0.7"/>
<line x1="219.65" y1="458.25" x2="328.07" y2="349.83" stroke="#505050" stroke-width="0.85" stroke-dasharray="5.4 3.6" opacity="0.7"/>
<line x1="217.38" y1="456.73" x2="276.05" y2="315.08" stroke="#505050" stroke-width="0.85" stroke-dasharray="5.4 3.6" opacity="0.7"/>
<line x1="214.70" y1="456.20" x2="214.70" y2="302.88" stroke="#505050" stroke-width="0.85" stroke-dasharray="5.4 3.6" opacity="0.7"/>
<line x1="212.02" y1="456.73" x2="153.35" y2="315.08" stroke="#505050" stroke-width="0.85" stroke-dasharray="5.4 3.6" opacity="0.7"/>
<line x1="209.75" y1="458.25" x2="101.33" y2="349.83" stroke="#505050" stroke-width="0.85" stroke-dasharray="5.4 3.6" opacity="0.7"/>
<line x1="208.23" y1="460.52" x2="66.58" y2="401.85" stroke="#505050" stroke-width="0.85" stroke-dasharray="5.4 3.6" opacity="0.7"/>
<line x1="207.70" y1="463.20" x2="54.38" y2="463.20" stroke="#505050" stroke-width="0.85" stroke-dasharray="5.4 3.6" opacity="0.7"/>
<line x1="208.23" y1="465.88" x2="66.58" y2="524.55" stroke="#505050" stroke-width="0.85" stroke-dasharray="5.4 3.6" opacity="0.7"/>
<line x1="209.75" y1="468.15" x2="101.33" y2="576.57" stroke="#505050" stroke-width="0.85" stroke-dasharray="5.4 3.6" opacity="0.7"/>
<line x1="212.02" y1="469.67" x2="153.35" y2="611.32" stroke="#505050" stroke-width="0.85" stroke-dasharray="5.4 3.6" opacity="0.7"/>
<line x1="214.70" y1="470.20" x2="214.70" y2="623.52" stroke="#505050" stroke-width="0.85" stroke-dasharray="5.4 3.6" opacity="0.7"/>
<line x1="217.38" y1="469.67" x2="276.05" y2="611.32" stroke="#505050" stroke-width="0.85" stroke-dasharray="5.4 3.6" opacity="0.7"/>
<line x1="219.65" y1="468.15" x2="328.07" y2="576.57" stroke="#505050" stroke-width="0.85" stroke-dasharray="5.4 3.6" opacity="0.7"/>
<line x1="221.17" y1="465.88" x2="362.82" y2="524.55" stroke="#505050" stroke-width="0.85" stroke-dasharray="5.4 3.6" opacity="0.7"/>
<line x1="210.20" y1="463.20" x2="219.20" y2="463.20" stroke="#444" stroke-width="0.7"/>
<line x1="214.70" y1="458.70" x2="214.70" y2="467.70" stroke="#444" stroke-width="0.7"/>
<text x="214.70" y="613.50" font-size="8.5" text-anchor="middle" fill="#ffffff" opacity="0.4">+20%</text>
<text x="364.02" y="438.82" font-size="15.4" text-anchor="middle" fill="#111" stroke="#111" stroke-width="0.22">1</text>
<text x="341.07" y="383.43" font-size="15.4" text-anchor="middle" fill="#111" stroke="#111" stroke-width="0.22">2</text>
<text x="298.67" y="341.03" font-size="15.4" text-anchor="middle" fill="#111" stroke="#111" stroke-width="0.22">3</text>
<text x="244.68" y="318.08" font-size="15.4" text-anchor="middle" fill="#111" stroke="#111" stroke-width="0.22">4</text>
<text x="184.72" y="318.08" font-size="15.4" text-anchor="middle" fill="#111" stroke="#111" stroke-width="0.22">5</text>
<text x="129.33" y="341.03" font-size="15.4" text-anchor="middle" fill="#111" stroke="#111" stroke-width="0.22">6</text>
<text x="86.93" y="383.43" font-size="15.4" text-anchor="middle" fill="#111" stroke="#111" stroke-width="0.22">7</text>
<text x="63.98" y="438.82" font-size="15.4" text-anchor="middle" fill="#111" stroke="#111" stroke-width="0.22">8</text>
<text x="63.98" y="498.78" font-size="15.4" text-anchor="middle" fill="#111" stroke="#111" stroke-width="0.22">9</text>
<text x="86.93" y="554.17" font-size="15.4" text-anchor="middle" fill="#111" stroke="#111" stroke-width="0.22">10</text>
<text x="129.33" y="596.57" font-size="15.4" text-anchor="middle" fill="#111" stroke="#111" stroke-width="0.22">11</text>
<text x="184.72" y="619.52" font-size="15.4" text-anchor="middle" fill="#111" stroke="#111" stroke-width="0.22">12</text>
<text x="244.68" y="619.52" font-size="15.4" text-anchor="middle" fill="#111" stroke="#111" stroke-width="0.22">13</text>
<text x="298.67" y="596.57" font-size="15.4" text-anchor="middle" fill="#111" stroke="#111" stroke-width="0.22">14</text>
<text x="341.07" y="554.17" font-size="15.4" text-anchor="middle" fill="#111" stroke="#111" stroke-width="0.22">15</text>
<text x="364.02" y="498.78" font-size="15.4" text-anchor="middle" fill="#111" stroke="#111" stroke-width="0.22">16</text>
<polygon fill="none" stroke="#f01010" stroke-width="1.5" stroke-linejoin="round" points="332.6,436.2 311.1,388.4 280.2,361.5 232.6,343.5 194.0,343.6 146.1,360.3 109.7,401.1 93.0,449.3 94.4,482.0 110.5,524.1 149.4,566.8 184.5,583.6 237.2,585.8 275.0,577.5 314.5,537.9 335.8,495.6"/>
<circle cx="214.7" cy="463.2" r="121.00" fill="none" stroke="#0a0a0a" stroke-width="1.4"/>
<line x1="332.31" y1="434.77" x2="332.65" y2="436.19" stroke="#0a0a0a" stroke-width="1.0"/>
<polygon fill="#0a0a0a" points="332.6,436.2 329.7,432.4 333.6,431.4"/>
<polygon fill="#0a0a0a" points="311.1,388.4 307.5,391.7 306.3,387.8"/>
<line x1="281.97" y1="362.62" x2="280.25" y2="361.49" stroke="#0a0a0a" stroke-width="1.0"/>
<polygon fill="#0a0a0a" points="280.2,361.5 285.0,362.2 282.8,365.6"/>
<line x1="234.38" y1="343.81" x2="232.58" y2="343.53" stroke="#0a0a0a" stroke-width="1.0"/>
<polygon fill="#0a0a0a" points="232.6,343.5 237.2,342.2 236.6,346.2"/>
<line x1="195.90" y1="343.67" x2="194.04" y2="343.61" stroke="#0a0a0a" stroke-width="1.0"/>
<polygon fill="#0a0a0a" points="194.0,343.6 198.5,341.8 198.4,345.8"/>
<line x1="148.37" y1="362.00" x2="146.09" y2="360.32" stroke="#0a0a0a" stroke-width="1.0"/>
<polygon fill="#0a0a0a" points="146.1,360.3 150.8,361.3 148.4,364.5"/>
<polygon fill="#0a0a0a" points="109.7,401.1 114.3,402.8 111.4,405.6"/>
<line x1="94.44" y1="449.86" x2="93.04" y2="449.34" stroke="#0a0a0a" stroke-width="1.0"/>
<polygon fill="#0a0a0a" points="93.0,449.3 97.9,449.0 96.5,452.8"/>
<line x1="94.89" y1="480.12" x2="94.44" y2="482.03" stroke="#0a0a0a" stroke-width="1.0"/>
<polygon fill="#0a0a0a" points="94.4,482.0 93.5,477.3 97.4,478.2"/>
<line x1="108.44" y1="521.09" x2="110.54" y2="524.06" stroke="#0a0a0a" stroke-width="1.0"/>
<polygon fill="#0a0a0a" points="110.5,524.1 106.4,521.6 109.6,519.3"/>
<line x1="143.22" y1="560.83" x2="149.45" y2="566.82" stroke="#0a0a0a" stroke-width="1.0"/>
<polygon fill="#0a0a0a" points="149.4,566.8 144.9,565.2 147.7,562.3"/>
<line x1="179.39" y1="578.93" x2="184.46" y2="583.61" stroke="#0a0a0a" stroke-width="1.0"/>
<polygon fill="#0a0a0a" points="184.5,583.6 179.9,582.1 182.6,579.2"/>
<line x1="234.16" y1="582.63" x2="237.20" y2="585.78" stroke="#0a0a0a" stroke-width="1.0"/>
<polygon fill="#0a0a0a" points="237.2,585.8 232.7,584.0 235.6,581.2"/>
<line x1="270.27" y1="570.68" x2="274.97" y2="577.51" stroke="#0a0a0a" stroke-width="1.0"/>
<polygon fill="#0a0a0a" points="275.0,577.5 270.8,575.0 274.1,572.8"/>
<line x1="312.66" y1="534.22" x2="314.50" y2="537.86" stroke="#0a0a0a" stroke-width="1.0"/>
<polygon fill="#0a0a0a" points="314.5,537.9 310.7,534.8 314.3,533.0"/>
<line x1="333.00" y1="488.64" x2="335.78" y2="495.64" stroke="#0a0a0a" stroke-width="1.0"/>
<polygon fill="#0a0a0a" points="335.8,495.6 332.3,492.3 336.0,490.8"/>
<rect x="53.20" y="302.20" width="322.90" height="322.00" fill="none" stroke="#4a4a4a" stroke-width="1.0"/>
<text x="56.60" y="320.40" font-size="19.2" font-weight="bold" fill="#000">95</text>
<text x="57.20" y="333.00" font-size="14.0" fill="#000" stroke="#000" stroke-width="0.22">R<tspan font-size="10" font-weight="bold" dy="6.5">f</tspan></text>
<text x="367.60" y="320.40" font-size="19.2" font-weight="bold" text-anchor="end" fill="#000">103</text>
<text x="348.40" y="333.00" font-size="14.0" fill="#000" stroke="#000" stroke-width="0.22">R<tspan font-size="10" font-weight="bold" dy="6.5">g</tspan></text>
<text x="56.40" y="600.80" font-size="17.0" textLength="31.60" lengthAdjust="spacingAndGlyphs" fill="#000" stroke="#000" stroke-width="0.22">CCT</text>
<text x="56.60" y="620.80" font-size="19.2" font-weight="bold" fill="#000">3927 K</text>
<text y="600.6" font-size="17" fill="#000"><tspan x="337.2" textLength="11.6" lengthAdjust="spacingAndGlyphs">D</tspan><tspan x="350.0" dy="3.2" font-size="14.2" textLength="13.2" lengthAdjust="spacingAndGlyphs">uv</tspan></text>
<text x="367.80" y="620.80" font-size="19.2" font-weight="bold" text-anchor="end" fill="#000">–0.0010</text>
</g>
<g id="ces">
<rect x="105.20" y="637.50" width="589.10" height="127.90" fill="#fff" stroke="#4a4a4a" stroke-width="0.95"/>
<rect x="105.20" y="640.44" width="5.95" height="124.96" fill="#eaa8c4" stroke="#2a2a2a" stroke-width="0.6"/>
<rect x="111.15" y="640.06" width="5.95" height="125.34" fill="#c45c86" stroke="#2a2a2a" stroke-width="0.6"/>
<rect x="117.10" y="652.21" width="5.95" height="113.19" fill="#4e3a40" stroke="#2a2a2a" stroke-width="0.6"/>
<rect x="123.05" y="640.06" width="5.95" height="125.34" fill="#d98a9e" stroke="#2a2a2a" stroke-width="0.6"/>
<rect x="129.00" y="641.98" width="5.95" height="123.42" fill="#b04060" stroke="#2a2a2a" stroke-width="0.6"/>
<rect x="134.95" y="641.72" width="5.95" height="123.68" fill="#9a5a66" stroke="#2a2a2a" stroke-width="0.6"/>
<rect x="140.90" y="640.06" width="5.95" height="125.34" fill="#8e3040" stroke="#2a2a2a" stroke-width="0.6"/>
<rect x="146.85" y="639.03" width="5.95" height="126.37" fill="#803c44" stroke="#2a2a2a" stroke-width="0.6"/>
<rect x="152.80" y="640.06" width="5.95" height="125.34" fill="#3c3a3a" stroke="#2a2a2a" stroke-width="0.6"/>
<rect x="158.75" y="639.29" width="5.95" height="126.11" fill="#f87a70" stroke="#2a2a2a" stroke-width="0.6"/>
<rect x="164.71" y="640.06" width="5.95" height="125.34" fill="#c8584c" stroke="#2a2a2a" stroke-width="0.6"/>
<rect x="170.66" y="639.29" width="5.95" height="126.11" fill="#e0604c" stroke="#2a2a2a" stroke-width="0.6"/>
<rect x="176.61" y="639.29" width="5.95" height="126.11" fill="#86503e" stroke="#2a2a2a" stroke-width="0.6"/>
<rect x="182.56" y="637.50" width="5.95" height="127.90" fill="#bca898" stroke="#2a2a2a" stroke-width="0.6"/>
<rect x="188.51" y="641.34" width="5.95" height="124.06" fill="#b88c74" stroke="#2a2a2a" stroke-width="0.6"/>
<rect x="194.46" y="639.29" width="5.95" height="126.11" fill="#80523c" stroke="#2a2a2a" stroke-width="0.6"/>
<rect x="200.41" y="641.85" width="5.95" height="123.55" fill="#8c5638" stroke="#2a2a2a" stroke-width="0.6"/>
<rect x="206.36" y="639.29" width="5.95" height="126.11" fill="#946c50" stroke="#2a2a2a" stroke-width="0.6"/>
<rect x="212.31" y="641.34" width="5.95" height="124.06" fill="#d08850" stroke="#2a2a2a" stroke-width="0.6"/>
<rect x="218.26" y="653.49" width="5.95" height="111.91" fill="#cc7a2a" stroke="#2a2a2a" stroke-width="0.6"/>
<rect x="224.21" y="644.53" width="5.95" height="120.87" fill="#f8a858" stroke="#2a2a2a" stroke-width="0.6"/>
<rect x="230.16" y="641.34" width="5.95" height="124.06" fill="#e89048" stroke="#2a2a2a" stroke-width="0.6"/>
<rect x="236.11" y="639.55" width="5.95" height="125.85" fill="#f4d8b8" stroke="#2a2a2a" stroke-width="0.6"/>
<rect x="242.06" y="644.53" width="5.95" height="120.87" fill="#fcc888" stroke="#2a2a2a" stroke-width="0.6"/>
<rect x="248.01" y="645.56" width="5.95" height="119.84" fill="#d89028" stroke="#2a2a2a" stroke-width="0.6"/>
<rect x="253.96" y="644.41" width="5.95" height="120.99" fill="#fcc468" stroke="#2a2a2a" stroke-width="0.6"/>
<rect x="259.91" y="647.09" width="5.95" height="118.31" fill="#b8a880" stroke="#2a2a2a" stroke-width="0.6"/>
<rect x="265.86" y="641.85" width="5.95" height="123.55" fill="#6c5838" stroke="#2a2a2a" stroke-width="0.6"/>
<rect x="271.81" y="643.51" width="5.95" height="121.89" fill="#ecc860" stroke="#2a2a2a" stroke-width="0.6"/>
<rect x="277.76" y="640.70" width="5.95" height="124.70" fill="#a89860" stroke="#2a2a2a" stroke-width="0.6"/>
<rect x="283.72" y="643.38" width="5.95" height="122.02" fill="#f0d060" stroke="#2a2a2a" stroke-width="0.6"/>
<rect x="289.67" y="648.37" width="5.95" height="117.03" fill="#d0a838" stroke="#2a2a2a" stroke-width="0.6"/>
<rect x="295.62" y="641.59" width="5.95" height="123.81" fill="#e8e0a0" stroke="#2a2a2a" stroke-width="0.6"/>
<rect x="301.57" y="645.56" width="5.95" height="119.84" fill="#a08c30" stroke="#2a2a2a" stroke-width="0.6"/>
<rect x="307.52" y="643.13" width="5.95" height="122.27" fill="#686030" stroke="#2a2a2a" stroke-width="0.6"/>
<rect x="313.47" y="656.94" width="5.95" height="108.46" fill="#c0c0a8" stroke="#2a2a2a" stroke-width="0.6"/>
<rect x="319.42" y="645.56" width="5.95" height="119.84" fill="#787038" stroke="#2a2a2a" stroke-width="0.6"/>
<rect x="325.37" y="647.22" width="5.95" height="118.18" fill="#d8d898" stroke="#2a2a2a" stroke-width="0.6"/>
<rect x="331.32" y="637.88" width="5.95" height="127.52" fill="#484c40" stroke="#2a2a2a" stroke-width="0.6"/>
<rect x="337.27" y="640.19" width="5.95" height="125.21" fill="#707850" stroke="#2a2a2a" stroke-width="0.6"/>
<rect x="343.22" y="637.88" width="5.95" height="127.52" fill="#d8dcc0" stroke="#2a2a2a" stroke-width="0.6"/>
<rect x="349.17" y="647.22" width="5.95" height="118.18" fill="#94a838" stroke="#2a2a2a" stroke-width="0.6"/>
<rect x="355.12" y="648.24" width="5.95" height="117.16" fill="#a0b838" stroke="#2a2a2a" stroke-width="0.6"/>
<rect x="361.07" y="637.88" width="5.95" height="127.52" fill="#404040" stroke="#2a2a2a" stroke-width="0.6"/>
<rect x="367.02" y="644.79" width="5.95" height="120.61" fill="#6c9448" stroke="#2a2a2a" stroke-width="0.6"/>
<rect x="372.97" y="643.26" width="5.95" height="122.14" fill="#88a868" stroke="#2a2a2a" stroke-width="0.6"/>
<rect x="378.92" y="641.98" width="5.95" height="123.42" fill="#90b080" stroke="#2a2a2a" stroke-width="0.6"/>
<rect x="384.87" y="640.83" width="5.95" height="124.57" fill="#90c888" stroke="#2a2a2a" stroke-width="0.6"/>
<rect x="390.82" y="644.41" width="5.95" height="120.99" fill="#508048" stroke="#2a2a2a" stroke-width="0.6"/>
<rect x="396.77" y="639.67" width="5.95" height="125.73" fill="#5c8c68" stroke="#2a2a2a" stroke-width="0.6"/>
<rect x="402.73" y="638.40" width="5.95" height="127.00" fill="#6c9878" stroke="#2a2a2a" stroke-width="0.6"/>
<rect x="408.68" y="640.70" width="5.95" height="124.70" fill="#387048" stroke="#2a2a2a" stroke-width="0.6"/>
<rect x="414.63" y="643.13" width="5.95" height="122.27" fill="#089058" stroke="#2a2a2a" stroke-width="0.6"/>
<rect x="420.58" y="641.85" width="5.95" height="123.55" fill="#b0e0d0" stroke="#2a2a2a" stroke-width="0.6"/>
<rect x="426.53" y="643.38" width="5.95" height="122.02" fill="#a0d8c8" stroke="#2a2a2a" stroke-width="0.6"/>
<rect x="432.48" y="640.70" width="5.95" height="124.70" fill="#40c0a0" stroke="#2a2a2a" stroke-width="0.6"/>
<rect x="438.43" y="640.57" width="5.95" height="124.83" fill="#00a080" stroke="#2a2a2a" stroke-width="0.6"/>
<rect x="444.38" y="640.57" width="5.95" height="124.83" fill="#109888" stroke="#2a2a2a" stroke-width="0.6"/>
<rect x="450.33" y="639.55" width="5.95" height="125.85" fill="#a8e0d8" stroke="#2a2a2a" stroke-width="0.6"/>
<rect x="456.28" y="644.53" width="5.95" height="120.87" fill="#c0d8d8" stroke="#2a2a2a" stroke-width="0.6"/>
<rect x="462.23" y="644.53" width="5.95" height="120.87" fill="#90c0b8" stroke="#2a2a2a" stroke-width="0.6"/>
<rect x="468.18" y="648.37" width="5.95" height="117.03" fill="#90a8a0" stroke="#2a2a2a" stroke-width="0.6"/>
<rect x="474.13" y="641.85" width="5.95" height="123.55" fill="#404c50" stroke="#2a2a2a" stroke-width="0.6"/>
<rect x="480.08" y="643.13" width="5.95" height="122.27" fill="#00989c" stroke="#2a2a2a" stroke-width="0.6"/>
<rect x="486.03" y="644.41" width="5.95" height="120.99" fill="#306c70" stroke="#2a2a2a" stroke-width="0.6"/>
<rect x="491.98" y="645.56" width="5.95" height="119.84" fill="#007880" stroke="#2a2a2a" stroke-width="0.6"/>
<rect x="497.93" y="647.22" width="5.95" height="118.18" fill="#108090" stroke="#2a2a2a" stroke-width="0.6"/>
<rect x="503.88" y="649.39" width="5.95" height="116.01" fill="#60a0a8" stroke="#2a2a2a" stroke-width="0.6"/>
<rect x="509.83" y="649.78" width="5.95" height="115.62" fill="#607c88" stroke="#2a2a2a" stroke-width="0.6"/>
<rect x="515.78" y="652.46" width="5.95" height="112.94" fill="#78bce0" stroke="#2a2a2a" stroke-width="0.6"/>
<rect x="521.74" y="656.30" width="5.95" height="109.10" fill="#186478" stroke="#2a2a2a" stroke-width="0.6"/>
<rect x="527.69" y="644.53" width="5.95" height="120.87" fill="#a8bcc4" stroke="#2a2a2a" stroke-width="0.6"/>
<rect x="533.64" y="658.22" width="5.95" height="107.18" fill="#2098c8" stroke="#2a2a2a" stroke-width="0.6"/>
<rect x="539.59" y="644.53" width="5.95" height="120.87" fill="#383c40" stroke="#2a2a2a" stroke-width="0.6"/>
<rect x="545.54" y="655.15" width="5.95" height="110.25" fill="#205878" stroke="#2a2a2a" stroke-width="0.6"/>
<rect x="551.49" y="655.41" width="5.95" height="109.99" fill="#2070b0" stroke="#2a2a2a" stroke-width="0.6"/>
<rect x="557.44" y="653.87" width="5.95" height="111.53" fill="#406c98" stroke="#2a2a2a" stroke-width="0.6"/>
<rect x="563.39" y="658.22" width="5.95" height="107.18" fill="#2860a8" stroke="#2a2a2a" stroke-width="0.6"/>
<rect x="569.34" y="643.26" width="5.95" height="122.14" fill="#a0b0d8" stroke="#2a2a2a" stroke-width="0.6"/>
<rect x="575.29" y="647.22" width="5.95" height="118.18" fill="#8c98c8" stroke="#2a2a2a" stroke-width="0.6"/>
<rect x="581.24" y="643.26" width="5.95" height="122.14" fill="#5060a8" stroke="#2a2a2a" stroke-width="0.6"/>
<rect x="587.19" y="641.98" width="5.95" height="123.42" fill="#d0d0e8" stroke="#2a2a2a" stroke-width="0.6"/>
<rect x="593.14" y="640.70" width="5.95" height="124.70" fill="#a8a4d0" stroke="#2a2a2a" stroke-width="0.6"/>
<rect x="599.09" y="645.69" width="5.95" height="119.71" fill="#3c3c48" stroke="#2a2a2a" stroke-width="0.6"/>
<rect x="605.04" y="653.49" width="5.95" height="111.91" fill="#585868" stroke="#2a2a2a" stroke-width="0.6"/>
<rect x="610.99" y="643.26" width="5.95" height="122.14" fill="#9c90c8" stroke="#2a2a2a" stroke-width="0.6"/>
<rect x="616.94" y="648.37" width="5.95" height="117.03" fill="#604c88" stroke="#2a2a2a" stroke-width="0.6"/>
<rect x="622.89" y="641.98" width="5.95" height="123.42" fill="#a080b8" stroke="#2a2a2a" stroke-width="0.6"/>
<rect x="628.84" y="647.22" width="5.95" height="118.18" fill="#644478" stroke="#2a2a2a" stroke-width="0.6"/>
<rect x="634.79" y="640.70" width="5.95" height="124.70" fill="#804888" stroke="#2a2a2a" stroke-width="0.6"/>
<rect x="640.75" y="667.43" width="5.95" height="97.97" fill="#c0c4c0" stroke="#2a2a2a" stroke-width="0.6"/>
<rect x="646.70" y="653.49" width="5.95" height="111.91" fill="#88708c" stroke="#2a2a2a" stroke-width="0.6"/>
<rect x="652.65" y="647.22" width="5.95" height="118.18" fill="#a890a8" stroke="#2a2a2a" stroke-width="0.6"/>
<rect x="658.60" y="647.35" width="5.95" height="118.05" fill="#744870" stroke="#2a2a2a" stroke-width="0.6"/>
<rect x="664.55" y="655.15" width="5.95" height="110.25" fill="#c098b8" stroke="#2a2a2a" stroke-width="0.6"/>
<rect x="670.50" y="645.69" width="5.95" height="119.71" fill="#d8a8c8" stroke="#2a2a2a" stroke-width="0.6"/>
<rect x="676.45" y="647.22" width="5.95" height="118.18" fill="#a05080" stroke="#2a2a2a" stroke-width="0.6"/>
<rect x="682.40" y="644.53" width="5.95" height="120.87" fill="#c86098" stroke="#2a2a2a" stroke-width="0.6"/>
<rect x="688.35" y="640.70" width="5.95" height="124.70" fill="#a84878" stroke="#2a2a2a" stroke-width="0.6"/>
<text x="108.18" y="778.80" font-size="10.0" text-anchor="middle" fill="#111" stroke="#111" stroke-width="0.22">1</text>
<text x="131.98" y="778.80" font-size="10.0" text-anchor="middle" fill="#111" stroke="#111" stroke-width="0.22">5</text>
<text x="155.78" y="778.80" font-size="10.0" text-anchor="middle" fill="#111" stroke="#111" stroke-width="0.22">9</text>
<text x="179.88" y="778.80" font-size="10.0" text-anchor="middle" letter-spacing="0.6" fill="#111" stroke="#111" stroke-width="0.22">13</text>
<text x="203.68" y="778.80" font-size="10.0" text-anchor="middle" letter-spacing="0.6" fill="#111" stroke="#111" stroke-width="0.22">17</text>
<text x="227.49" y="778.80" font-size="10.0" text-anchor="middle" letter-spacing="0.6" fill="#111" stroke="#111" stroke-width="0.22">21</text>
<text x="251.29" y="778.80" font-size="10.0" text-anchor="middle" letter-spacing="0.6" fill="#111" stroke="#111" stroke-width="0.22">25</text>
<text x="275.09" y="778.80" font-size="10.0" text-anchor="middle" letter-spacing="0.6" fill="#111" stroke="#111" stroke-width="0.22">29</text>
<text x="298.89" y="778.80" font-size="10.0" text-anchor="middle" letter-spacing="0.6" fill="#111" stroke="#111" stroke-width="0.22">33</text>
<text x="322.69" y="778.80" font-size="10.0" text-anchor="middle" letter-spacing="0.6" fill="#111" stroke="#111" stroke-width="0.22">37</text>
<text x="346.50" y="778.80" font-size="10.0" text-anchor="middle" letter-spacing="0.6" fill="#111" stroke="#111" stroke-width="0.22">41</text>
<text x="370.30" y="778.80" font-size="10.0" text-anchor="middle" letter-spacing="0.6" fill="#111" stroke="#111" stroke-width="0.22">45</text>
<text x="394.10" y="778.80" font-size="10.0" text-anchor="middle" letter-spacing="0.6" fill="#111" stroke="#111" stroke-width="0.22">49</text>
<text x="417.90" y="778.80" font-size="10.0" text-anchor="middle" letter-spacing="0.6" fill="#111" stroke="#111" stroke-width="0.22">53</text>
<text x="441.70" y="778.80" font-size="10.0" text-anchor="middle" letter-spacing="0.6" fill="#111" stroke="#111" stroke-width="0.22">57</text>
<text x="465.51" y="778.80" font-size="10.0" text-anchor="middle" letter-spacing="0.6" fill="#111" stroke="#111" stroke-width="0.22">61</text>
<text x="489.31" y="778.80" font-size="10.0" text-anchor="middle" letter-spacing="0.6" fill="#111" stroke="#111" stroke-width="0.22">65</text>
<text x="513.11" y="778.80" font-size="10.0" text-anchor="middle" letter-spacing="0.6" fill="#111" stroke="#111" stroke-width="0.22">69</text>
<text x="536.91" y="778.80" font-size="10.0" text-anchor="middle" letter-spacing="0.6" fill="#111" stroke="#111" stroke-width="0.22">73</text>
<text x="560.71" y="778.80" font-size="10.0" text-anchor="middle" letter-spacing="0.6" fill="#111" stroke="#111" stroke-width="0.22">77</text>
<text x="584.52" y="778.80" font-size="10.0" text-anchor="middle" letter-spacing="0.6" fill="#111" stroke="#111" stroke-width="0.22">81</text>
<text x="608.32" y="778.80" font-size="10.0" text-anchor="middle" letter-spacing="0.6" fill="#111" stroke="#111" stroke-width="0.22">85</text>
<text x="632.12" y="778.80" font-size="10.0" text-anchor="middle" letter-spacing="0.6" fill="#111" stroke="#111" stroke-width="0.22">89</text>
<text x="655.92" y="778.80" font-size="10.0" text-anchor="middle" letter-spacing="0.6" fill="#111" stroke="#111" stroke-width="0.22">93</text>
<text x="679.72" y="778.80" font-size="10.0" text-anchor="middle" letter-spacing="0.6" fill="#111" stroke="#111" stroke-width="0.22">97</text>
<line x1="101.60" y1="637.50" x2="105.20" y2="637.50" stroke="#333" stroke-width="0.8"/>
<text x="98.70" y="640.90" font-size="10.0" text-anchor="end" letter-spacing="0.6" fill="#111" stroke="#111" stroke-width="0.22">100</text>
<line x1="101.60" y1="650.29" x2="105.20" y2="650.29" stroke="#333" stroke-width="0.8"/>
<text x="98.70" y="653.69" font-size="10.0" text-anchor="end" letter-spacing="0.6" fill="#111" stroke="#111" stroke-width="0.22">90</text>
<line x1="101.60" y1="663.08" x2="105.20" y2="663.08" stroke="#333" stroke-width="0.8"/>
<text x="98.70" y="666.48" font-size="10.0" text-anchor="end" letter-spacing="0.6" fill="#111" stroke="#111" stroke-width="0.22">80</text>
<line x1="101.60" y1="675.87" x2="105.20" y2="675.87" stroke="#333" stroke-width="0.8"/>
<text x="98.70" y="679.27" font-size="10.0" text-anchor="end" letter-spacing="0.6" fill="#111" stroke="#111" stroke-width="0.22">70</text>
<line x1="101.60" y1="688.66" x2="105.20" y2="688.66" stroke="#333" stroke-width="0.8"/>
<text x="98.70" y="692.06" font-size="10.0" text-anchor="end" letter-spacing="0.6" fill="#111" stroke="#111" stroke-width="0.22">60</text>
<line x1="101.60" y1="701.45" x2="105.20" y2="701.45" stroke="#333" stroke-width="0.8"/>
<text x="98.70" y="704.85" font-size="10.0" text-anchor="end" letter-spacing="0.6" fill="#111" stroke="#111" stroke-width="0.22">50</text>
<line x1="101.60" y1="714.24" x2="105.20" y2="714.24" stroke="#333" stroke-width="0.8"/>
<text x="98.70" y="717.64" font-size="10.0" text-anchor="end" letter-spacing="0.6" fill="#111" stroke="#111" stroke-width="0.22">40</text>
<line x1="101.60" y1="727.03" x2="105.20" y2="727.03" stroke="#333" stroke-width="0.8"/>
<text x="98.70" y="730.43" font-size="10.0" text-anchor="end" letter-spacing="0.6" fill="#111" stroke="#111" stroke-width="0.22">30</text>
<line x1="101.60" y1="739.82" x2="105.20" y2="739.82" stroke="#333" stroke-width="0.8"/>
<text x="98.70" y="743.22" font-size="10.0" text-anchor="end" letter-spacing="0.6" fill="#111" stroke="#111" stroke-width="0.22">20</text>
<line x1="101.60" y1="752.61" x2="105.20" y2="752.61" stroke="#333" stroke-width="0.8"/>
<text x="98.70" y="756.01" font-size="10.0" text-anchor="end" letter-spacing="0.6" fill="#111" stroke="#111" stroke-width="0.22">10</text>
<line x1="101.60" y1="765.40" x2="105.20" y2="765.40" stroke="#333" stroke-width="0.8"/>
<text x="98.70" y="768.80" font-size="10.0" text-anchor="end" letter-spacing="0.6" fill="#111" stroke="#111" stroke-width="0.22">0</text>
<text x="399.00" y="792.50" font-size="11.0" text-anchor="middle" textLength="52.00" lengthAdjust="spacingAndGlyphs" fill="#111" stroke="#111" stroke-width="0.22">CES Color</text>
<text x="66.00" y="706.30" font-size="10.9" text-anchor="middle" transform="rotate(-90 66.00 706.30)" textLength="150.00" lengthAdjust="spacingAndGlyphs" fill="#111" stroke="#111" stroke-width="0.22">Color Sample Fidelity, R<tspan font-size="8.8" dy="4.0">f,CESi</tspan></text>
</g>
<g id="logo" opacity="0.9">
<polygon points="494.6,230.6 590.1,257.9 585.1,314.0 494.6,340.8 405.9,313.7 398.5,258.1" fill="#fffefa" stroke="#fffefa" stroke-width="13.0" stroke-linejoin="round" opacity="0.86"/>
<polygon points="494.6,230.6 590.1,257.9 585.1,314.0 494.6,340.8 405.9,313.7 398.5,258.1" fill="#f8f3e6" stroke="#f8f3e6" stroke-width="9.6" stroke-linejoin="round"/>
<polygon points="494.6,230.6 590.1,257.9 585.1,314.0 494.6,340.8 405.9,313.7 398.5,258.1" fill="#eee5d3" stroke="#eee5d3" stroke-width="7.0" stroke-linejoin="round"/>
<polygon points="494.6,232.7 588.0,259.4 583.2,312.5 494.6,338.7 407.7,312.2 400.7,259.6" fill="#3e546a" stroke="#3e546a" stroke-width="6" stroke-linejoin="round"/>
<polygon points="408.6,300.4 449.2,300.4 433.4,317.3 410.6,310.4" fill="#f7c94d"/>
<polygon points="541.0,300.4 582.0,300.4 580.5,310.8 557.4,317.8" fill="#f7c94d"/>
<polygon points="480.8,300.5 508.0,300.5 518.1,328.8 495.4,335.9 472.2,328.8" fill="#f7c94d"/>
<polygon points="472.0,267.7 482.2,267.7 487.5,260.3 483.0,260.3" fill="#f7c94d"/>
<polygon points="490.9,267.7 496.9,267.7 495.4,260.1 492.7,260.1" fill="#f7c94d"/>
<polygon points="516.6,267.7 506.4,267.7 501.1,260.3 505.6,260.3" fill="#f7c94d"/>
<path fill="#f47f3c" fill-rule="evenodd" d="M479.5,237.8H509.4V242.4H503.3L509.8,256.7H478.8L486,242.4H479.5Z M494.3,245.8L499.2,251.8H489Z"/>
<text x="407.8" y="295.3" font-family='"Liberation Sans", "DejaVu Sans", sans-serif' font-weight="bold" font-size="31.2" textLength="166.4" lengthAdjust="spacingAndGlyphs" fill="#f47f3c" stroke="#f47f3c" stroke-width="1.4" stroke-linejoin="miter">ZEROAIR</text>
<text x="583.2" y="296.0" transform="rotate(-90 583.2 296.0)" font-family='"Liberation Sans", "DejaVu Sans", sans-serif' font-weight="bold" font-size="10.3" textLength="22.6" lengthAdjust="spacingAndGlyphs" fill="#f47f3c" stroke="#f47f3c" stroke-width="0.4">ORG</text>
</g>
<g id="bottom">
<rect x="96.20" y="803.00" width="299.70" height="137.30" fill="#e6e6e6"/>
<text x="60.10" y="813.00" font-size="10.4" font-weight="bold" textLength="35.80" lengthAdjust="spacingAndGlyphs" fill="#000">Notes:</text>
<text x="103.50" y="816.00" font-size="10.2" textLength="75.10" lengthAdjust="spacingAndGlyphs" fill="#111" stroke="#111" stroke-width="0.22">14500 Level 3</text>
<text x="423.10" y="826.60" font-size="11.0" font-weight="bold" textLength="6.20" lengthAdjust="spacingAndGlyphs" fill="#111">x</text>
<text x="445.30" y="826.60" font-size="11.0" font-weight="bold" textLength="38.90" lengthAdjust="spacingAndGlyphs" fill="#111">0.3829</text>
<text x="423.10" y="846.40" font-size="11.0" font-weight="bold" textLength="6.20" lengthAdjust="spacingAndGlyphs" fill="#111">y</text>
<text x="445.30" y="846.40" font-size="11.0" font-weight="bold" textLength="38.90" lengthAdjust="spacingAndGlyphs" fill="#111">0.3761</text>
<text x="423.10" y="866.20" font-size="11.0" font-weight="bold" textLength="9.60" lengthAdjust="spacingAndGlyphs" fill="#111">u'</text>
<text x="445.30" y="866.20" font-size="11.0" font-weight="bold" textLength="38.90" lengthAdjust="spacingAndGlyphs" fill="#111">0.2270</text>
<text x="423.10" y="885.90" font-size="11.0" font-weight="bold" textLength="9.60" lengthAdjust="spacingAndGlyphs" fill="#111">v'</text>
<text x="445.30" y="885.90" font-size="11.0" font-weight="bold" textLength="38.90" lengthAdjust="spacingAndGlyphs" fill="#111">0.5017</text>
<rect x="509.80" y="803.70" width="130.80" height="137.30" fill="#fff" stroke="#222" stroke-width="1.0"/>
<text x="575.00" y="822.90" font-size="11.0" font-weight="bold" text-anchor="middle" textLength="82.50" lengthAdjust="spacingAndGlyphs" fill="#111">CIE 13.3-1995</text>
<text x="575.00" y="842.60" font-size="11.0" font-weight="bold" text-anchor="middle" textLength="27.20" lengthAdjust="spacingAndGlyphs" fill="#111">(CRI)</text>
<text x="555.50" y="861.90" font-size="11.0" font-weight="bold" fill="#111">R<tspan font-size="7.8" dy="4.0">a</tspan></text>
<text x="580.60" y="861.90" font-size="11.0" font-weight="bold" textLength="14.10" lengthAdjust="spacingAndGlyphs" fill="#111">97</text>
<text x="555.50" y="881.70" font-size="11.0" font-weight="bold" fill="#111">R<tspan font-size="7.8" dy="4.0">9</tspan></text>
<text x="580.60" y="881.70" font-size="11.0" font-weight="bold" textLength="14.10" lengthAdjust="spacingAndGlyphs" fill="#111">95</text>
<text x="396.50" y="957.30" font-size="10.6" font-weight="bold" text-anchor="middle" textLength="279.50" lengthAdjust="spacingAndGlyphs" fill="#111">Colors are for visual orientation purposes only.</text>
</g>
</svg>
</body>
</html>
